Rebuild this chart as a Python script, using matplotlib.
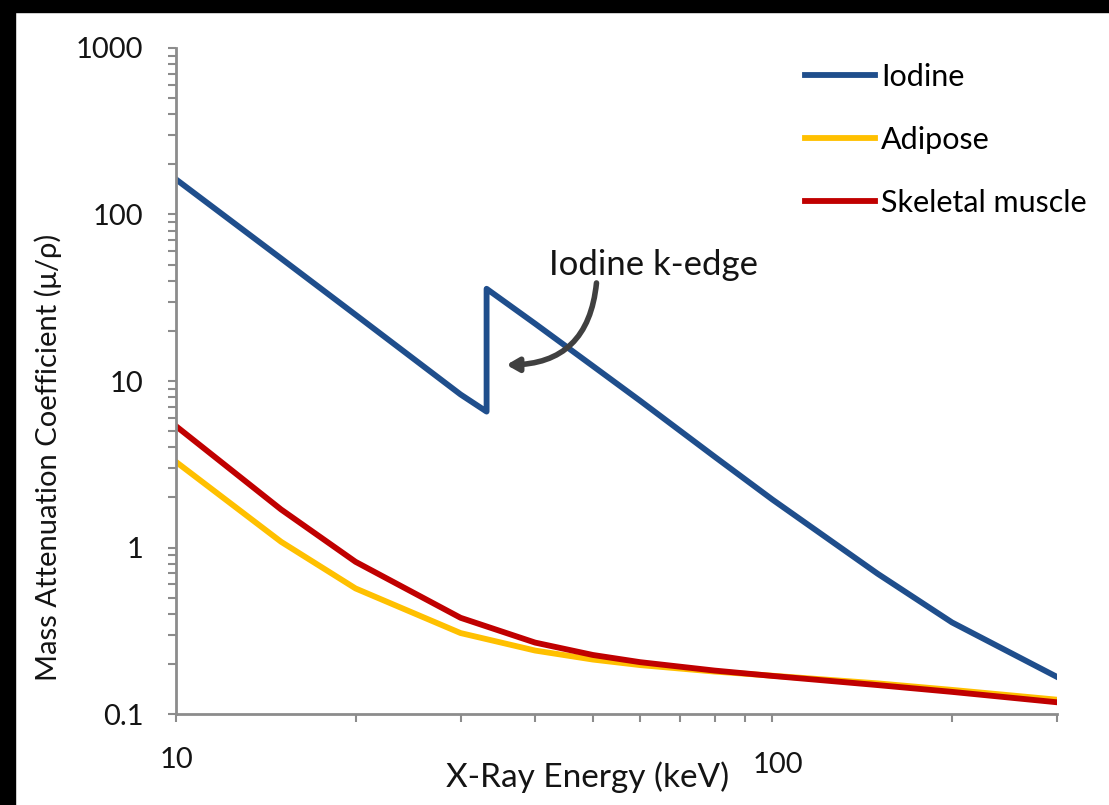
import matplotlib.pyplot as plt
from matplotlib.patches import Rectangle
from matplotlib.ticker import LogLocator, NullFormatter, FixedLocator

plt.rcParams['font.family'] = ['Lato', 'DejaVu Sans']

# photon energies (keV) and mass attenuation coefficients (cm^2/g)
energy_iodine = [10, 15, 20, 30, 33.17, 33.17, 40, 50, 60, 80, 100, 150, 200, 300]
mu_iodine = [162.6, 54.5, 25.0, 8.3, 6.55, 35.8, 22.1, 12.3, 7.61, 3.51, 1.94, 0.697, 0.355, 0.167]

energy_tissue = [10, 15, 20, 30, 40, 50, 60, 80, 100, 150, 200, 300]
mu_adipose = [3.268, 1.083, 0.5677, 0.3063, 0.2405, 0.2123, 0.1967, 0.1798, 0.1698, 0.1528, 0.1396, 0.1219]
mu_muscle = [5.356, 1.693, 0.8205, 0.3783, 0.2685, 0.2262, 0.2048, 0.1823, 0.1693, 0.1492, 0.1358, 0.1176]

W, H = 1109, 805
TXT = '#141414'
fig = plt.figure(figsize=(W / 100, H / 100), dpi=100)
fig.patch.set_facecolor('white')
# dark strips along the top and left edge
fig.patches.append(Rectangle((0, 0), 15 / W, 1, transform=fig.transFigure, color='black', zorder=-1))
fig.patches.append(Rectangle((0, 1 - 12 / H), 1, 12 / H, transform=fig.transFigure, color='black', zorder=-1))

ax = fig.add_axes([176 / W, (H - 714) / H, (1057 - 176) / W, (714 - 48) / H])

ax.plot(energy_iodine, mu_iodine, color='#1F4E8C', lw=4.2, label='Iodine')
ax.plot(energy_tissue, mu_adipose, color='#FFC000', lw=4.2, label='Adipose')
ax.plot(energy_tissue, mu_muscle, color='#C00000', lw=4.2, label='Skeletal muscle')

ax.set_xscale('log')
ax.set_yscale('log')
ax.set_xlim(10, 300)
ax.set_ylim(0.1, 1000)

for s in ['top', 'right']:
    ax.spines[s].set_visible(False)
for s in ['left', 'bottom']:
    ax.spines[s].set_color('#8C8C8C')
    ax.spines[s].set_linewidth(2)

ax.set_yticks([0.1, 1, 10, 100, 1000])
ax.set_yticklabels(['0.1', '1', '10', '100', '1000'])
ax.yaxis.set_minor_locator(LogLocator(base=10, subs=range(2, 10), numticks=10))
ax.yaxis.set_minor_formatter(NullFormatter())

ax.xaxis.set_major_locator(FixedLocator([10, 100]))
ax.xaxis.set_minor_locator(FixedLocator([20, 30, 40, 50, 60, 70, 80, 90, 200, 300]))
ax.xaxis.set_minor_formatter(NullFormatter())
ax.set_xticklabels([])

ax.tick_params(which='both', direction='out', color='#8C8C8C', width=1.5, length=6)
ax.tick_params(axis='y', which='major', pad=17.5, labelsize=21, labelcolor=TXT)

# x tick labels sit at different heights
xt = ax.get_xaxis_transform()
ax.text(10, -(760 - 714) / 666, '10', transform=xt, ha='center', va='center', fontsize=21, color=TXT)
ax.text(102, -(765 - 714) / 666, '100', transform=xt, ha='center', va='center', fontsize=21, color=TXT)

ax.set_xlabel('X-Ray Energy (keV)', fontsize=24, color=TXT, va='center')
ax.xaxis.set_label_coords((588 - 176) / 881, -(777 - 714) / 666)
ax.set_ylabel('Mass Attenuation Coefficient (\u03bc/\u03c1)', fontsize=21, color=TXT, va='center')
ax.yaxis.set_label_coords(-(176 - 48) / 881, 0.385)

ax.legend(loc='upper left', bbox_to_anchor=(805 / W, 1 - 63 / H), bbox_transform=fig.transFigure,
          frameon=False, fontsize=22, handlelength=2.3, handletextpad=0.2, labelspacing=1.14,
          borderpad=0, borderaxespad=0)

# k-edge callout
ax.text(10 ** (1 + (652 - 176) / 594), 10 ** ((547.5 - 265) / 166.5), 'Iodine k-edge',
        ha='center', va='center', fontsize=25, color=TXT)
ax.annotate('', xy=(35.8, 12.5), xytext=(50.7, 38.8),
            arrowprops=dict(arrowstyle='-|>,head_length=0.7,head_width=0.4', color='#404040', lw=4,
                            connectionstyle='arc3,rad=-0.45', shrinkA=0, shrinkB=0))

fig.savefig('out.png', dpi=100)
